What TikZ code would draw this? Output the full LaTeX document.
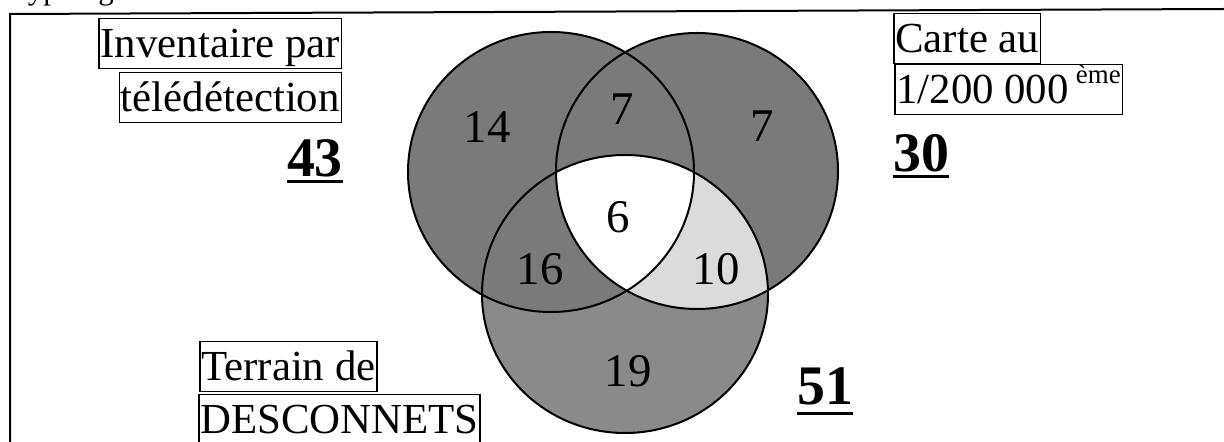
\documentclass[tikz,border=0pt]{standalone}
\usepackage{fontspec}
\setmainfont{Liberation Serif}
\begin{document}
\begin{tikzpicture}[x=1bp,y=-1bp,
  lbl/.style={draw, line width=1.5bp, inner xsep=1.5bp, inner ysep=1.5bp,
    text height=37bp, text depth=10bp, font=\fontsize{43}{43}\selectfont},
  num/.style={font=\fontsize{47}{47}\selectfont, inner sep=0pt},
  tot/.style={font=\fontsize{56}{56}\selectfont\bfseries, inner sep=0pt},
  uline/.style={line width=3bp},
  ring/.style={line width=2bp},
  darkfill/.style={fill=black!52},
  midfill/.style={fill=black!46},
  lightfill/.style={fill=black!14}]
\useasboundingbox (0,0) rectangle (1224,442);
\clip (0,0) rectangle (1224,442);

% caption fragment cut by the page edge
\node[anchor=base west, inner sep=0pt, font=\fontsize{31}{31}\selectfont] (cap) at (11,0) {Typologie};

% frame
\coordinate (fTL) at (10,14);
\coordinate (fTR) at (1224,9);
\coordinate (fBL) at (10,445);
\draw[line width=2bp] (fBL) -- (fTL) -- (fTR);

% circles
\coordinate (cL) at (551,172);
\coordinate (cR) at (697,171);
\coordinate (cB) at (625,294);
\def\shapeL{(cL) ellipse [x radius=143bp, y radius=140bp]}
\def\shapeR{(cR) ellipse [x radius=141bp, y radius=138bp]}
\def\shapeB{(cB) ellipse [x radius=143bp, y radius=139bp]}

\path[midfill] \shapeB;
\path[darkfill] \shapeL;
\path[darkfill] \shapeR;
\begin{scope}
  \clip \shapeR;
  \path[midfill] \shapeB;
\end{scope}
\begin{scope}
  \clip \shapeL;
  \clip \shapeB;
  \path[darkfill] \shapeB;
\end{scope}
\begin{scope}
  \clip \shapeR;
  \clip \shapeB;
  \path[lightfill] \shapeB;
\end{scope}
\begin{scope}
  \clip \shapeL;
  \clip \shapeR;
  \path[fill=white] \shapeB;
\end{scope}
\draw[ring] \shapeL;
\draw[ring] \shapeR;
\draw[ring] \shapeB;

% region counts
\node[num] (n14) at (487,127) {14};
\node[num] (n7a) at (622,109) {7};
\node[num] (n7b) at (762,126) {7};
\node[num] (n6)  at (618,217) {6};
\node[num] (n16) at (540,269) {16};
\node[num] (n10) at (716,269) {10};
\node[num] (n19) at (628,371) {19};

% set labels
\node[lbl, anchor=north east] (inv1) at (342,18) {Inventaire par};
\node[lbl, anchor=north east] (inv2) at (342,72) {télédétection};
\node[tot, anchor=base east] (t43) at (343,177) {43};
\draw[uline] ([yshift=-5bp]t43.base west) -- ([yshift=-5bp]t43.base east);

\node[lbl, anchor=north west] (car1) at (893,13) {Carte au};
\node[lbl, anchor=north west] (car2) at (894,64) {1/200 000\,\raisebox{20bp}{\fontsize{27}{27}\selectfont ème}};
\node[tot, anchor=base west] (t30) at (893,172) {30};
\draw[uline] ([yshift=-5bp]t30.base west) -- ([yshift=-5bp]t30.base east);

\node[lbl, anchor=north west] (ter1) at (199,341) {Terrain de};
\node[lbl, anchor=north west] (ter2) at (198,394) {DESCONNETS};
\node[tot, anchor=base west] (t51) at (797,405) {51};
\draw[uline] ([yshift=-9bp]t51.base west) -- ([yshift=-9bp]t51.base east);
\end{tikzpicture}
\end{document}
